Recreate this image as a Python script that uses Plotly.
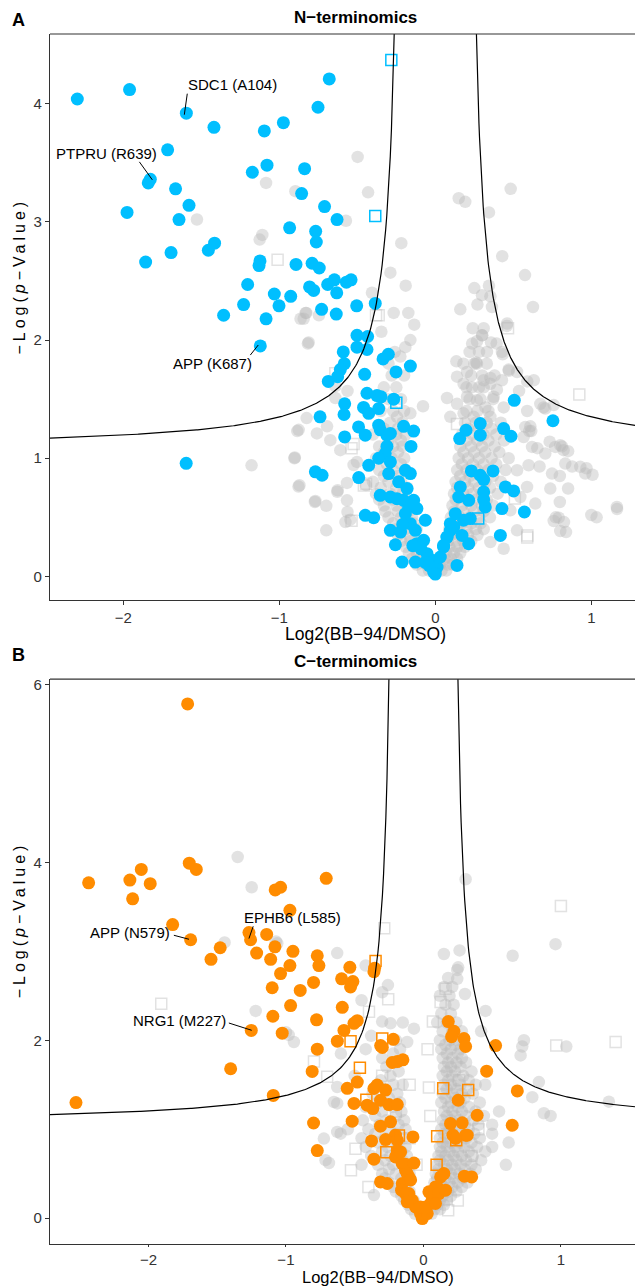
import numpy as np
import plotly.graph_objects as go

# ---------------- Panel A : N-terminomics ----------------
A_blue = [
    (-2.295, 4.04), (-1.96, 4.12), (-1.596, 3.92), (-1.419, 3.80), (-1.716, 3.61), (-1.827, 3.36),
    (-1.84, 3.33), (-1.665, 3.28), (-1.579, 3.14), (-1.976, 3.08), (-1.643, 3.02), (-1.415, 2.82),
    (-1.455, 2.76), (-1.694, 2.74), (-1.857, 2.66), (-1.096, 3.77), (-0.974, 3.84), (-0.752, 3.97),
    (-0.68, 4.21), (-1.173, 3.42), (-1.079, 3.48), (-0.838, 3.45), (-0.857, 3.24), (-0.71, 3.13),
    (-0.63, 3.02), (-0.934, 2.95), (-0.767, 2.92), (-0.763, 2.83), (-1.124, 2.67), (-1.13, 2.63),
    (-0.893, 2.64), (-0.79, 2.65), (-0.744, 2.61), (-1.203, 2.47), (-1.032, 2.39), (-1.229, 2.30),
    (-1.002, 2.29), (-0.927, 2.37), (-0.806, 2.45), (-0.78, 2.42), (-1.357, 2.21), (-1.085, 2.18),
    (-0.69, 2.47), (-0.647, 2.51), (-0.57, 2.49), (-0.54, 2.51), (-0.632, 2.40), (-0.729, 2.26),
    (-0.635, 2.22), (-0.504, 2.29), (-0.385, 2.31), (-1.122, 1.95), (-0.502, 2.04), (-0.434, 2.03),
    (-0.502, 1.94), (-0.438, 1.92), (-0.59, 1.90), (-0.583, 1.80), (-0.609, 1.75), (-0.626, 1.69),
    (-0.686, 1.65), (-0.453, 1.71), (-0.335, 1.84), (-0.301, 1.88), (-0.252, 1.73), (-0.16, 1.78),
    (-0.739, 1.35), (-0.581, 1.46), (-0.585, 1.37), (-0.438, 1.55), (-0.374, 1.53), (-0.348, 1.52),
    (-0.46, 1.43), (-0.427, 1.38), (-0.363, 1.42), (-0.267, 1.50), (-1.597, 0.957),
    (-0.581, 1.18), (-0.492, 1.265), (-0.449, 1.195), (-0.363, 1.28), (-0.353, 1.24), (-0.31, 1.195),
    (-0.288, 1.21), (-0.203, 1.27), (-0.139, 1.23), (-0.156, 1.10), (-0.31, 1.10), (-0.321, 1.04),
    (-0.427, 0.94), (-0.491, 0.836), (-0.769, 0.885), (-0.726, 0.856), (-0.363, 1.0), (-0.288, 0.969),
    (-0.299, 0.87), (-0.235, 0.80), (-0.192, 0.898), (-0.16, 0.87), (-0.181, 0.743), (-0.139, 0.644),
    (-0.353, 0.686), (-0.288, 0.672), (-0.246, 0.658), (-0.203, 0.644), (-0.171, 0.588), (-0.118, 0.574),
    (-0.064, 0.475), (-0.192, 0.531), (-0.449, 0.517), (-0.395, 0.497), (-0.288, 0.390), (-0.256, 0.268),
    (-0.213, 0.121), (-0.16, 0.446), (-0.128, 0.39), (-0.118, 0.277), (-0.075, 0.305), (-0.053, 0.192),
    (-0.021, 0.136), (-0.011, 0.037), (0.011, 0.079), (0.032, 0.164), (0.053, 0.249), (0.075, 0.333),
    (0.096, 0.39), (0.139, 0.093), (-0.128, 0.121), (-0.209, 0.44), (-0.223, 0.375), (-0.144, 0.26),
    (-0.092, 0.233), (-0.039, 0.09), (0.0, 0.02), (-0.065, 0.119),
    (0.506, 1.49), (0.754, 1.317), (0.156, 1.166), (0.197, 1.237), (0.288, 1.293), (0.288, 1.195),
    (0.438, 1.251), (0.485, 1.186), (0.231, 0.893), (0.288, 0.856), (0.31, 0.819), (0.370, 0.893),
    (0.449, 0.757), (0.502, 0.723), (0.571, 0.545), (0.427, 0.574), (0.31, 0.715), (0.32, 0.588),
    (0.31, 0.650), (0.214, 0.644), (0.160, 0.757), (0.150, 0.672), (0.128, 0.531), (0.181, 0.475),
    (0.224, 0.489), (0.096, 0.446), (0.118, 0.418), (0.214, 0.277), (0.171, 0.347), (0.075, 0.333),
    (0.053, 0.263), (0.417, 0.347),
]
A_blue_sq = [(-0.282, 4.37), (-0.385, 3.05), (-0.25, 1.47), (0.275, 0.49)]

A_grey = [
    (-1.085, 3.33), (-0.897, 3.26), (-1.528, 3.02), (-1.109, 2.89), (-1.126, 2.85), (-0.831, 2.23),
    (-0.498, 3.55), (-0.431, 3.25), (-0.573, 3.01), (-0.218, 2.82), (0.15, 3.20), (0.192, 3.17),
    (0.483, 3.28), (0.344, 3.08), (0.429, 2.71), (0.575, 2.55), (0.626, 2.28), (0.25, 2.44),
    (0.299, 2.38), (0.344, 2.46), (0.16, 2.26), (-0.288, 2.57), (-0.19, 2.46), (-0.406, 2.40),
    (-0.267, 2.23), (-0.173, 2.23), (-0.135, 2.13), (-0.346, 2.07), (-0.16, 2.0), (-0.192, 1.94),
    (-0.224, 1.86), (0.353, 2.37), (0.363, 2.28), (0.46, 2.14), (0.299, 2.04), (0.357, 1.98),
    (0.267, 1.99), (0.331, 1.90), (0.427, 1.90), (0.47, 1.75), (0.524, 1.73), (0.631, 1.66),
    (0.135, 1.82), (0.203, 1.73), (0.139, 1.69), (0.267, 1.80), (0.31, 1.66), (0.181, 1.63),
    (0.235, 1.60), (0.353, 1.63), (0.395, 1.58), (0.427, 1.66), (0.075, 1.51), (0.139, 1.46),
    (0.203, 1.52), (0.267, 1.49), (0.321, 1.43), (0.374, 1.52), (0.438, 1.43), (0.181, 1.38),
    (0.096, 1.35), (0.246, 1.35), (0.353, 1.35), (-0.876, 1.24), (-0.759, 1.21), (-0.694, 1.27),
    (-0.812, 1.98), (-0.844, 2.18), (-0.827, 2.23), (-0.079, 1.44), (-0.16, 1.38), (-0.246, 1.35),
    (0.673, 1.46), (0.705, 1.42), (0.801, 1.11), (0.609, 1.27), (0.566, 1.18),
    (-1.178, 0.94), (-0.903, 1.0), (-0.885, 1.23), (-0.825, 1.34), (-0.877, 0.76), (-0.772, 0.63),
    (-0.699, 0.597), (-0.699, 0.39), (-0.628, 0.716), (-0.563, 0.545), (-0.576, 0.46), (-0.524, 0.943),
    (-0.445, 0.773), (-0.817, 1.97), (-0.864, 2.18), (-0.746, 2.21), (-0.641, 1.61), (-0.641, 1.51),
    (-0.563, 1.57), (0.458, 2.12), (0.393, 1.97), (0.432, 1.88), (0.301, 2.04), (0.236, 1.97),
    (0.262, 1.81), (0.353, 1.68), (0.471, 1.74), (0.589, 1.65), (0.537, 1.57), (0.615, 1.23),
    (0.733, 1.14), (0.812, 1.10), (0.851, 1.06), (0.877, 0.93), (0.969, 0.915), (1.008, 0.86),
    (0.798, 0.85), (0.851, 0.744), (0.798, 0.63), (0.772, 0.50), (0.825, 0.46), (0.838, 0.375),
    (1.034, 0.50), (1.165, 0.57), (0.668, 0.93), (0.654, 1.085), (0.602, 1.23), (0.589, 1.40),
    (0.694, 1.43), (0.759, 1.45), (-0.901, 1.006), (-0.871, 0.771), (-0.769, 0.638), (-0.626, 0.729),
    (-0.566, 0.644), (-0.545, 0.480), (-0.566, 0.791), (-0.502, 0.969), (-0.609, 1.068), (-0.673, 1.153),
    (0.577, 1.265), (0.620, 1.096), (0.598, 0.941), (0.705, 1.040), (0.769, 1.096), (0.822, 1.068),
    (0.833, 0.955), (0.929, 0.927), (0.961, 0.870), (0.748, 0.870), (0.737, 0.743), (0.641, 0.616),
    (0.588, 0.757), (0.791, 0.497), (0.801, 0.384), (1.0, 0.520), (1.164, 0.588), (0.759, 0.469),
    (0.524, 0.898), (0.545, 0.672), (0.481, 0.559), (0.524, 0.390), (0.353, 0.291), (0.438, 0.234),
    # dense central cloud
    (-0.08, 0.05), (-0.04, 0.05), (0.0, 0.05), (0.04, 0.05), (0.07, 0.05),
    (-0.12, 0.1), (-0.06, 0.1), (-0.02, 0.1), (0.03, 0.1), (0.08, 0.1), (0.11, 0.1),
    (-0.15, 0.15), (-0.1, 0.15), (0.06, 0.15), (0.1, 0.15), (0.14, 0.15),
    (-0.17, 0.2), (-0.12, 0.2), (-0.08, 0.2), (0.07, 0.2), (0.12, 0.2), (0.16, 0.2),
    (-0.19, 0.25), (-0.14, 0.25), (0.09, 0.25), (0.14, 0.25), (0.19, 0.25),
    (-0.22, 0.3), (-0.16, 0.3), (-0.1, 0.3), (0.08, 0.3), (0.13, 0.3), (0.18, 0.3), (0.23, 0.3),
    (-0.24, 0.35), (-0.17, 0.35), (0.1, 0.35), (0.15, 0.35), (0.21, 0.35), (0.27, 0.35),
    (-0.25, 0.4), (-0.19, 0.4), (-0.12, 0.4), (0.09, 0.4), (0.14, 0.4), (0.2, 0.4), (0.26, 0.4), (0.31, 0.4),
    (-0.27, 0.45), (-0.2, 0.45), (-0.14, 0.45), (0.11, 0.45), (0.17, 0.45), (0.23, 0.45), (0.29, 0.45),
    (-0.3, 0.5), (-0.22, 0.5), (-0.15, 0.5), (0.1, 0.5), (0.16, 0.5), (0.22, 0.5), (0.28, 0.5), (0.35, 0.5),
    (-0.32, 0.55), (-0.24, 0.55), (-0.17, 0.55), (0.12, 0.55), (0.18, 0.55), (0.25, 0.55), (0.31, 0.55),
    (-0.33, 0.6), (-0.25, 0.6), (-0.18, 0.6), (0.11, 0.6), (0.17, 0.6), (0.23, 0.6), (0.3, 0.6), (0.37, 0.6),
    (-0.36, 0.65), (-0.27, 0.65), (-0.2, 0.65), (0.13, 0.65), (0.2, 0.65), (0.26, 0.65), (0.33, 0.65),
    (-0.38, 0.7), (-0.29, 0.7), (-0.21, 0.7), (0.12, 0.7), (0.18, 0.7), (0.24, 0.7), (0.3, 0.7), (0.4, 0.7),
    (-0.35, 0.75), (-0.25, 0.75), (-0.18, 0.75), (0.14, 0.75), (0.21, 0.75), (0.28, 0.75), (0.35, 0.75),
    (-0.4, 0.8), (-0.3, 0.8), (-0.22, 0.8), (0.13, 0.8), (0.19, 0.8), (0.25, 0.8), (0.32, 0.8), (0.42, 0.8),
    (-0.33, 0.85), (-0.24, 0.85), (0.16, 0.85), (0.22, 0.85), (0.29, 0.85), (0.37, 0.85),
    (-0.36, 0.9), (-0.27, 0.9), (-0.19, 0.9), (0.14, 0.9), (0.2, 0.9), (0.27, 0.9), (0.34, 0.9), (0.45, 0.9),
    (-0.31, 0.95), (-0.22, 0.95), (0.17, 0.95), (0.24, 0.95), (0.31, 0.95), (0.39, 0.95),
    (-0.38, 1.0), (-0.28, 1.0), (-0.2, 1.0), (0.15, 1.0), (0.21, 1.0), (0.28, 1.0), (0.36, 1.0), (0.47, 1.0),
    (-0.33, 1.05), (-0.24, 1.05), (0.18, 1.05), (0.25, 1.05), (0.32, 1.05), (0.41, 1.05),
    (-0.36, 1.1), (-0.27, 1.1), (-0.21, 1.1), (0.16, 1.1), (0.23, 1.1), (0.3, 1.1), (0.38, 1.1),
    (-0.3, 1.15), (-0.22, 1.15), (0.2, 1.15), (0.27, 1.15), (0.34, 1.15), (0.44, 1.15),
    (-0.4, 1.2), (-0.25, 1.2), (-0.19, 1.2), (0.17, 1.2), (0.24, 1.2), (0.31, 1.2), (0.39, 1.2),
    (-0.33, 1.25), (-0.24, 1.25), (0.21, 1.25), (0.28, 1.25), (0.36, 1.25),
    (-0.29, 1.3), (-0.21, 1.3), (0.19, 1.3), (0.26, 1.3), (0.33, 1.3), (0.42, 1.3),
    (-0.35, 1.4), (-0.27, 1.4), (-0.2, 1.4), (0.2, 1.4), (0.27, 1.4), (0.34, 1.4),
    (-0.3, 1.5), (-0.22, 1.5), (0.22, 1.5), (0.29, 1.5), (0.37, 1.5),
    (-0.33, 1.6), (-0.25, 1.6), (0.2, 1.6), (0.28, 1.6), (0.31, 1.6),
    (-0.28, 1.7), (-0.2, 1.7), (0.23, 1.7), (0.3, 1.7), (0.38, 1.7),
    (-0.3, 1.8), (0.18, 1.8), (0.25, 1.8), (0.33, 1.8), (-0.26, 1.9), (0.22, 1.9), (0.28, 1.9),
    (0.24, 2.1), (0.31, 2.1), (0.27, 2.3),
]
A_grey_sq = [
    (-1.011, 2.68), (-0.363, 2.21), (0.466, 2.10), (0.923, 1.54), (-0.524, 1.12), (0.139, 1.29),
    (0.589, 0.33), (0.51, 0.66), (-0.537, 1.085), (-0.458, 0.77), (-0.537, 0.47), (-0.38, 2.21),
    (-0.641, 1.72), (-0.444, 0.785), (0.59, 0.347),
]

# ---------------- Panel B : C-terminomics ----------------
B_orange = [
    (-1.715, 5.78), (-2.435, 3.77), (-2.135, 3.80), (-2.052, 3.92), (-1.987, 3.76), (-2.115, 3.59),
    (-1.703, 3.99), (-1.652, 3.92), (-1.078, 3.69), (-1.039, 3.72), (-0.971, 3.46), (-1.824, 3.30),
    (-1.693, 3.13), (-1.269, 3.21), (-1.257, 3.13), (-1.14, 3.19), (-1.478, 3.04), (-1.545, 2.91),
    (-1.213, 2.98), (-1.08, 3.05), (-1.111, 2.91), (-0.949, 3.0), (-0.772, 2.95), (-0.707, 3.82),
    (-0.971, 2.84), (-0.76, 2.84), (-0.535, 2.82), (-0.355, 2.81), (-1.039, 2.75), (-0.896, 2.56),
    (-1.1, 2.59), (-0.966, 2.39), (-1.095, 2.27), (-1.252, 2.11), (-1.027, 2.08), (-0.799, 2.65),
    (-0.777, 2.23), (-0.772, 1.90), (-0.809, 1.65), (-1.402, 1.68), (-1.092, 1.38), (-2.527, 1.30),
    (-0.799, 1.07), (-0.772, 0.76), (-0.36, 2.77), (-0.595, 2.69), (-0.513, 2.66), (-0.53, 2.60),
    (-0.59, 2.37), (-0.481, 2.22), (-0.505, 2.19), (-0.578, 2.11), (-0.626, 1.99), (-0.219, 2.01),
    (-0.311, 1.94), (-0.299, 1.92), (-0.227, 1.75), (-0.19, 1.76), (-0.149, 1.78), (-0.481, 1.53),
    (-0.554, 1.46), (-0.360, 1.458), (-0.336, 1.496), (-0.275, 1.44), (-0.505, 1.29), (-0.409, 1.27),
    (-0.368, 1.232), (-0.312, 1.326), (-0.251, 1.277), (-0.190, 1.277), (-0.518, 1.09), (-0.312, 1.034),
    (-0.239, 1.083), (-0.203, 0.933), (-0.275, 0.884), (-0.377, 0.869), (-0.076, 0.914), (-0.360, 0.663),
    (-0.312, 0.408), (-0.263, 0.390), (-0.190, 0.876), (-0.190, 0.764), (-0.203, 0.689), (-0.154, 0.614),
    (-0.130, 0.539), (-0.106, 0.464), (-0.154, 0.390), (-0.106, 0.277), (-0.081, 0.202), (-0.057, 0.127),
    (-0.021, 0.052), (-0.008, -0.004), (0.028, 0.052), (0.052, 0.165), (0.064, 0.240), (0.088, 0.352),
    (0.125, 0.464), (0.149, 0.502), (0.076, 0.202), (0.040, 0.296), (-0.13, 0.607), (-0.069, 0.62),
    (-0.118, 0.50), (-0.093, 0.43), (-0.159, 0.315), (-0.13, 0.277), (-0.118, 0.184), (-0.021, 0.127),
    (0.016, 0.127), (0.1, 0.352), (0.113, 0.277), (0.161, 0.315), (0.088, 0.165), (-0.166, 0.745),
    (0.181, 2.21), (0.222, 2.10), (0.205, 2.04), (0.295, 2.02), (0.307, 1.93), (0.525, 1.94),
    (0.46, 1.652), (0.683, 1.43), (0.253, 1.326), (0.391, 1.157), (0.197, 1.064), (0.282, 1.072),
    (0.307, 0.933), (0.215, 0.933), (0.234, 0.896), (0.319, 0.933), (0.646, 1.045), (0.298, 0.472),
    (0.351, 0.464),
]
B_orange_sq = [
    (-0.348, 2.89), (-0.53, 1.99), (-0.462, 1.69), (-0.299, 2.02), (-0.415, 1.33), (0.144, 1.46),
    (0.326, 1.44), (0.1, 0.92), (-0.27, 0.74), (0.096, 0.60), (-0.178, 0.93), (0.239, 0.876),
]
B_grey = [
    (-1.351, 4.06), (-1.249, 3.72), (-1.446, 3.10), (-1.073, 3.11), (-1.22, 2.33), (-0.942, 1.98),
    (-0.98, 2.06), (-0.627, 2.98), (-1.063, 3.09), (0.149, 2.97), (0.263, 3.01), (0.307, 3.81),
    (0.649, 2.95), (0.961, 3.08), (-0.42, 2.84), (0.253, 2.82), (1.039, 1.93), (1.349, 1.31),
    (0.246, 2.79), (0.246, 2.69), (0.452, 2.33), (0.302, 2.52), (0.731, 2.0), (0.719, 1.93),
    (0.707, 1.83), (0.84, 1.53), (0.792, 1.36), (0.876, 1.18), (0.925, 1.15), (-1.0, 2.09),
    (-0.687, 0.62), (-0.724, 0.895), (-0.602, 0.95), (-0.627, 1.29), (-0.258, 2.62), (-0.3, 2.54),
    (-0.3, 2.21), (-0.239, 2.19), (-0.069, 2.13), (-0.118, 1.98), (-0.36, 0.26), (-0.712, 0.652),
    (-0.627, 0.97), (-0.651, 1.306), (-0.627, 1.475), (-0.55, 1.0), (-0.45, 0.6), (-0.5, 1.6),
    (-0.42, 1.9), (-0.38, 2.05), (-0.6, 1.85), (-0.45, 2.45), (0.45, 1.5), (0.55, 1.2), (0.5, 0.8),
    (0.6, 0.6), (0.42, 2.1), (0.5, 1.05), (0.62, 0.85),
    # dense central cloud
    (-0.06, 0.05), (-0.02, 0.05), (0.02, 0.05), (0.06, 0.05),
    (-0.09, 0.1), (-0.04, 0.1), (0.03, 0.1), (0.08, 0.1), (0.12, 0.1),
    (-0.11, 0.15), (0.05, 0.15), (0.1, 0.15), (0.15, 0.15),
    (-0.14, 0.2), (-0.07, 0.2), (0.06, 0.2), (0.12, 0.2), (0.17, 0.2),
    (-0.16, 0.25), (0.08, 0.25), (0.14, 0.25), (0.2, 0.25),
    (-0.2, 0.3), (-0.1, 0.3), (0.07, 0.3), (0.12, 0.3), (0.18, 0.3), (0.24, 0.3),
    (-0.22, 0.35), (0.09, 0.35), (0.15, 0.35), (0.21, 0.35), (0.28, 0.35),
    (-0.25, 0.4), (-0.12, 0.4), (0.08, 0.4), (0.13, 0.4), (0.19, 0.4), (0.25, 0.4), (0.32, 0.4),
    (-0.28, 0.45), (-0.16, 0.45), (0.1, 0.45), (0.16, 0.45), (0.22, 0.45), (0.29, 0.45),
    (-0.3, 0.5), (-0.2, 0.5), (-0.1, 0.5), (0.09, 0.5), (0.14, 0.5), (0.2, 0.5), (0.26, 0.5), (0.34, 0.5),
    (-0.25, 0.55), (-0.13, 0.55), (0.11, 0.55), (0.17, 0.55), (0.23, 0.55), (0.3, 0.55), (0.38, 0.55),
    (-0.33, 0.6), (-0.22, 0.6), (0.1, 0.6), (0.15, 0.6), (0.21, 0.6), (0.27, 0.6), (0.35, 0.6),
    (-0.28, 0.65), (-0.15, 0.65), (0.12, 0.65), (0.18, 0.65), (0.24, 0.65), (0.31, 0.65), (0.42, 0.65),
    (-0.38, 0.7), (-0.24, 0.7), (-0.12, 0.7), (0.11, 0.7), (0.16, 0.7), (0.22, 0.7), (0.28, 0.7), (0.36, 0.7),
    (-0.3, 0.75), (-0.16, 0.75), (0.13, 0.75), (0.19, 0.75), (0.25, 0.75), (0.33, 0.75), (0.45, 0.75),
    (-0.42, 0.8), (-0.26, 0.8), (-0.13, 0.8), (0.12, 0.8), (0.17, 0.8), (0.23, 0.8), (0.3, 0.8), (0.39, 0.8),
    (-0.33, 0.85), (-0.19, 0.85), (0.14, 0.85), (0.2, 0.85), (0.27, 0.85), (0.35, 0.85),
    (-0.45, 0.9), (-0.28, 0.9), (-0.14, 0.9), (0.12, 0.9), (0.18, 0.9), (0.24, 0.9), (0.31, 0.9), (0.41, 0.9),
    (-0.35, 0.95), (-0.2, 0.95), (0.15, 0.95), (0.21, 0.95), (0.28, 0.95), (0.37, 0.95), (0.5, 0.95),
    (-0.4, 1.0), (-0.25, 1.0), (-0.13, 1.0), (0.13, 1.0), (0.19, 1.0), (0.25, 1.0), (0.33, 1.0),
    (-0.32, 1.05), (-0.18, 1.05), (0.16, 1.05), (0.22, 1.05), (0.3, 1.05), (0.4, 1.05),
    (-0.44, 1.1), (-0.27, 1.1), (-0.14, 1.1), (0.14, 1.1), (0.2, 1.1), (0.26, 1.1), (0.36, 1.1),
    (-0.35, 1.15), (-0.2, 1.15), (0.17, 1.15), (0.23, 1.15), (0.31, 1.15), (0.44, 1.15),
    (-0.3, 1.2), (-0.16, 1.2), (0.15, 1.2), (0.21, 1.2), (0.28, 1.2), (0.38, 1.2),
    (-0.42, 1.25), (-0.22, 1.25), (0.18, 1.25), (0.25, 1.25), (0.33, 1.25),
    (-0.33, 1.3), (-0.17, 1.3), (0.13, 1.3), (0.2, 1.3), (0.27, 1.3), (0.41, 1.3),
    (-0.25, 1.35), (0.16, 1.35), (0.23, 1.35), (0.3, 1.35),
    (-0.37, 1.4), (-0.19, 1.4), (0.14, 1.4), (0.21, 1.4), (0.28, 1.4), (0.36, 1.4),
    (-0.28, 1.45), (0.17, 1.45), (0.24, 1.45), (0.32, 1.45),
    (-0.22, 1.5), (-0.15, 1.5), (0.15, 1.5), (0.2, 1.5), (0.27, 1.5), (0.38, 1.5),
    (-0.31, 1.55), (0.18, 1.55), (0.25, 1.55), (0.33, 1.55),
    (-0.24, 1.6), (0.14, 1.6), (0.21, 1.6), (0.29, 1.6),
    (-0.18, 1.65), (0.17, 1.65), (0.23, 1.65), (0.35, 1.65),
    (-0.27, 1.7), (0.15, 1.7), (0.2, 1.7), (0.27, 1.7),
    (-0.2, 1.75), (0.18, 1.75), (0.24, 1.75), (0.31, 1.75),
    (-0.3, 1.8), (0.14, 1.8), (0.21, 1.8), (0.28, 1.8),
    (-0.22, 1.85), (0.17, 1.85), (0.25, 1.85),
    (-0.17, 1.9), (0.13, 1.9), (0.2, 1.9), (0.27, 1.9),
    (0.16, 1.95), (0.23, 1.95), (0.3, 1.95),
    (-0.2, 2.0), (0.12, 2.0), (0.19, 2.0), (0.25, 2.0),
    (0.14, 2.1), (0.21, 2.1), (0.28, 2.1),
    (-0.15, 2.2), (0.1, 2.2), (0.17, 2.2), (0.24, 2.2),
    (0.13, 2.3), (0.2, 2.3), (0.16, 2.4), (0.22, 2.4), (0.12, 2.5), (0.19, 2.5),
    (0.15, 2.6), (0.21, 2.6), (0.18, 2.7),
]
B_grey_sq = [
    (-1.907, 2.41), (-0.796, 1.76), (-0.285, 3.26), (1.0, 3.51), (0.161, 2.58), (-0.256, 2.46),
    (-0.396, 2.32), (0.069, 2.21), (0.125, 2.43), (0.966, 1.94), (1.398, 1.98), (-0.7, 1.59),
    (-0.527, 0.54), (-0.494, 0.78), (0.04, 1.47), (0.18, 0.09), (-0.1, 1.5), (0.05, 1.15),
    (-0.1, 0.9), (-0.05, 0.6), (0.25, 0.2), (0.35, 0.7), (-0.4, 0.35), (0.03, 1.9), (0.26, 1.55),
    (-0.2, 1.2), (0.4, 1.0), (-0.3, 1.6),
]

# threshold curve parameters  y = y0 + c / (|x| - x0)
A_curve = dict(x0=0.20, c=0.22, y0=1.074)
B_curve = dict(x0=0.20, c=0.2516, y0=1.065)

A_xrange, A_yrange = [-2.47, 1.28], [-0.2, 4.59]
B_xrange, B_yrange = [-2.716, 1.539], [-0.29, 6.06]

A_labels = [("SDC1 (A104)", -1.301, 4.16, (-1.59, 4.085), (-1.609, 3.907)),
            ("PTPRU (R639)", -2.106, 3.576, (-1.897, 3.508), (-1.814, 3.356)),
            ("APP (K687)", -1.43, 1.805, (-1.186, 1.873), (-1.135, 1.958))]
B_labels = [("APP (N579)", -2.131, 3.206, (-1.815, 3.18), (-1.705, 3.135)),
            ("EPHB6 (L585)", -0.953, 3.382, (-1.238, 3.281), (-1.269, 3.143)),
            ("NRG1 (M227)", -1.771, 2.225, (-1.415, 2.194), (-1.249, 2.112))]

BLUE = "#00BFFF"
ORANGE = "#FF8C00"
GREY = "rgba(185,185,185,0.42)"
FONT = "Liberation Sans, Arial, sans-serif"

fig = go.Figure()


def xs(p):
    return [a for a, b in p]


def ys(p):
    return [b for a, b in p]


def curve(par, xr, ytop):
    xe = par["x0"] + par["c"] / (ytop - par["y0"])
    left = np.linspace(xr[0], -xe, 300)
    right = np.linspace(xe, xr[1], 300)
    xx = np.concatenate([left, [None], right])
    yy = np.concatenate([par["y0"] + par["c"] / (np.abs(left) - par["x0"]), [None],
                         par["y0"] + par["c"] / (np.abs(right) - par["x0"])])
    return xx, yy


for (grey, grey_sq, sig, sig_sq, col, par, xr, yr, xa, ya) in [
    (A_grey, A_grey_sq, A_blue, A_blue_sq, BLUE, A_curve, A_xrange, A_yrange, "x", "y"),
    (B_grey, B_grey_sq, B_orange, B_orange_sq, ORANGE, B_curve, B_xrange, B_yrange, "x2", "y2"),
]:
    fig.add_trace(go.Scatter(x=xs(grey_sq), y=ys(grey_sq), mode="markers", xaxis=xa, yaxis=ya,
                             marker=dict(symbol="square-open", size=11, color=GREY, line=dict(width=1.5)),
                             hoverinfo="skip"))
    fig.add_trace(go.Scatter(x=xs(grey), y=ys(grey), mode="markers", xaxis=xa, yaxis=ya,
                             marker=dict(size=12.5, color=GREY, line=dict(width=0)), hoverinfo="skip"))
    fig.add_trace(go.Scatter(x=xs(sig), y=ys(sig), mode="markers", xaxis=xa, yaxis=ya,
                             marker=dict(size=13, color=col, line=dict(width=0)), hoverinfo="skip"))
    fig.add_trace(go.Scatter(x=xs(sig_sq), y=ys(sig_sq), mode="markers", xaxis=xa, yaxis=ya,
                             marker=dict(symbol="square-open", size=11, color=col, line=dict(width=1.5)),
                             hoverinfo="skip"))
    cx, cy = curve(par, xr, yr[1] + 0.2)
    fig.add_trace(go.Scatter(x=cx, y=cy, mode="lines", xaxis=xa, yaxis=ya,
                             line=dict(color="black", width=1.2), hoverinfo="skip"))

annotations = []
shapes = []
for labels, xref, yref in [(A_labels, "x", "y"), (B_labels, "x2", "y2")]:
    for text, tx, ty, p0, p1 in labels:
        annotations.append(dict(text=text, x=tx, y=ty, xref=xref, yref=yref, showarrow=False,
                                font=dict(size=15, color="black", family=FONT)))
        shapes.append(dict(type="line", xref=xref, yref=yref, x0=p0[0], y0=p0[1], x1=p1[0], y1=p1[1],
                           line=dict(color="black", width=1)))

A_dom = [0.5322, 1.0]
B_dom = [0.0, 0.4669]
for d in (A_dom, B_dom):
    shapes.append(dict(type="line", xref="paper", yref="paper", x0=0, x1=1, y0=d[1], y1=d[1],
                       line=dict(color="#333333", width=1.2)))

YT = "<span style=\"letter-spacing:4px\">\u2212Log(<i>p</i>\u2212Value)</span>"
texts = [
    ("<b>N\u2212terminomics</b>", 0.523, 1.0136, 17, 0),
    ("<b>C\u2212terminomics</b>", 0.523, 0.4818, 17, 0),
    ("<b>A</b>", -0.0547, 1.0116, 18, 0),
    ("<b>B</b>", -0.0547, 0.4868, 18, 0),
    ("Log2(BB\u221294/DMSO)", 0.5385, 0.5040, 17.5, 0),
    ("Log2(BB\u221294/DMSO)", 0.5607, -0.0272, 16.5, 0),
    (YT, -0.052, 0.80, 16, -90),
    (YT, -0.052, 0.268, 16, -90),
]
for t, x, y, s, ang in texts:
    annotations.append(dict(text=t, x=x, y=y, xref="paper", yref="paper", showarrow=False,
                            textangle=ang, xanchor="center", yanchor="middle",
                            font=dict(size=s, color="black", family=FONT)))

axis_common = dict(showline=True, linecolor="#333333", linewidth=1.2, ticks="outside",
                   tickwidth=1, tickcolor="#333333", showgrid=False, zeroline=False,
                   tickfont=dict(size=15, color="#333333", family=FONT))

fig.update_layout(
    width=635, height=1286, showlegend=False,
    margin=dict(l=50, r=0, t=34, b=42),
    paper_bgcolor="white", plot_bgcolor="white",
    font=dict(family=FONT),
    xaxis=dict(domain=[0, 1], range=A_xrange, anchor="y", tickvals=[-2, -1, 0, 1], ticklen=4, **axis_common),
    yaxis=dict(domain=A_dom, range=A_yrange, anchor="x", tickvals=[0, 1, 2, 3, 4], ticklen=4, **axis_common),
    xaxis2=dict(domain=[0, 1], range=B_xrange, anchor="y2", tickvals=[-2, -1, 0, 1], ticklen=2, **axis_common),
    yaxis2=dict(domain=B_dom, range=B_yrange, anchor="x2", tickvals=[0, 2, 4, 6], ticklen=4, **axis_common),
    annotations=annotations, shapes=shapes,
)

fig.write_html("out.html", config={"displayModeBar": False},
               post_script="document.body.style.margin='0';document.body.style.overflow='hidden';")
